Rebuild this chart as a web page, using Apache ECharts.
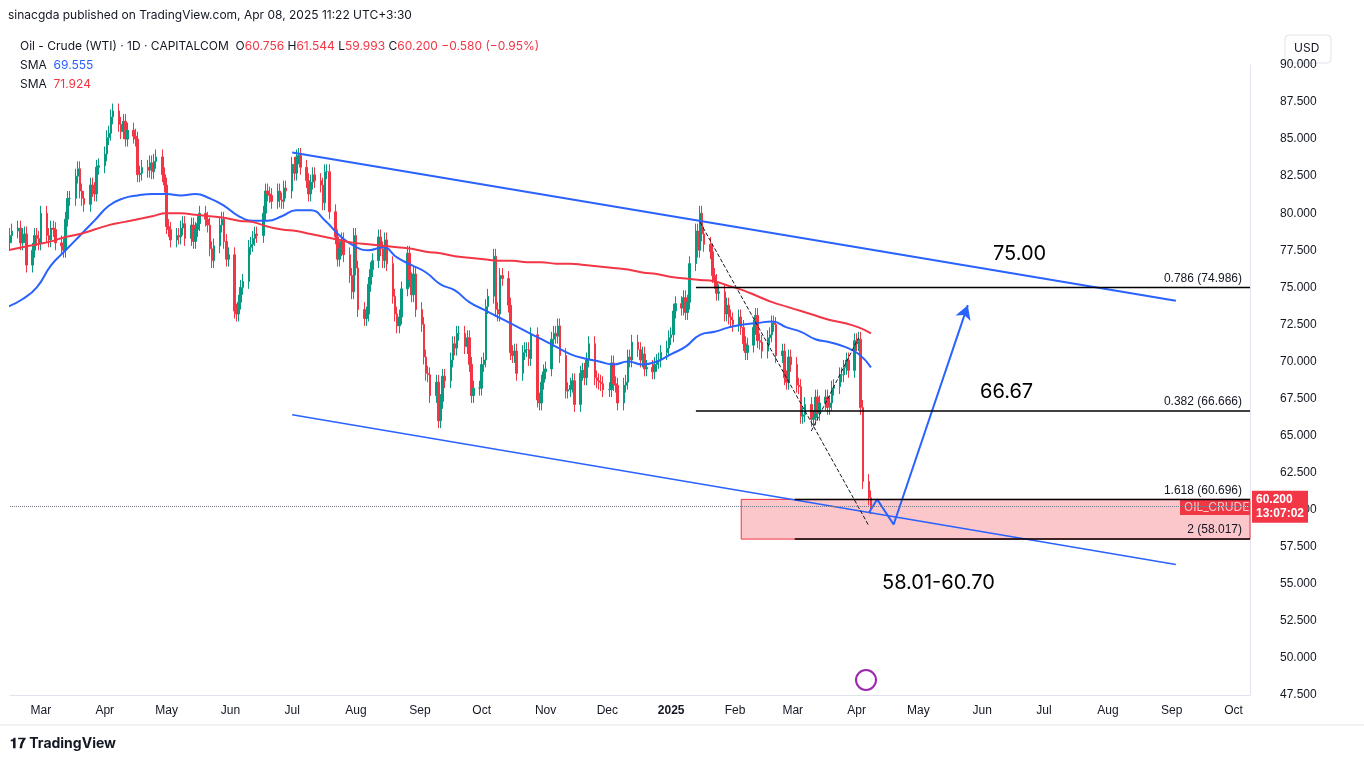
<!DOCTYPE html>
<html><head><meta charset="utf-8">
<script src="https://cdn.jsdelivr.net/npm/echarts@6/dist/echarts.min.js"></script>
<style>html,body{margin:0;padding:0;background:#fff}#c{width:1364px;height:765px}</style>
</head><body><div id="c"></div>
<script>
// Daily closes, week by week starting Mon 2024-02-12
const weeklyCloses = [
[77,77.5,78,78.5,78.8],[79,78,78.5,78.6,76.5],[77.5,78.5,78.3,78,80],[78.5,78.2,79,78.9,78],
[77.8,77.5,79.6,81,81],[82.5,83,81.5,81,80.6],[81.9,81.6,81.3,83.1,83.2],[84,85.1,85.4,86.5,86.9],
[86,85.5,86.2,85,85.6],[85.2,85,82.6,82.7,83.1],[82.9,83.4,82.8,83.5,83.8],[82.6,81.9,79.1,78.9,78.2],
[78.5,78.4,79,79.3,78.3],[79.2,78.1,78.9,79.3,80],[79.6,79.2,77.6,76.8,77.8],[79.2,79.6,78.1,76.9,77.2],
[73.4,73.2,74,75,75.4],[77.7,77.9,78.3,78.6,78.5],[80,81.5,81.3,81.2,80.8],[81.5,80.9,80.8,81.7,81.5],
[83.3,82.7,83.8,83.9,83.1],[82.2,81.3,82.1,82.6,82.2],[81.9,80.7,82.8,82.8,80.1],[78.4,76.9,77.6,78.2,77.2],
[75.8,74.7,78.5,76.3,73.5],[72.9,73.2,75.2,76.2,76.8],[78.4,77.6,76.8,78.2,76.6],[74.4,73.2,72.4,73,74.9],
[77.3,75.5,74.5,75.9,73.5],[72.5,70.3,69.2,69.1,67.7],[68.6,66,67.3,69,68.7],[70.1,71.2,70.9,71.9,71.9],
[71,71.6,69.8,67.7,68.2],[68.2,69.8,70.1,73.7,74.4],[77.1,73.5,73.2,75.8,75.6],[73.8,70.6,70.4,70.7,69.2],
[70.6,70.8,70.8,70.2,71.8],[67.4,67.2,68.6,69.3,69.5],[71.5,71.9,71.7,72.4,70.4],[68,68.1,68.4,68.7,67.1],
[69.2,69.4,68.9,70.1,71.2],[68.9,68.7,68.6,68.5,68.1],[68.1,69.9,68.5,68.4,67.2],[68.4,68.6,70.3,70.1,71.3],
[70.8,70.1,70.5,69.5,69.6],[69.3,69.8,70,70.1,70.6],[70.9,71.6,71.8,73.4,73.9],[73.6,74.3,73.3,74,76.6],
[78.8,77.5,80,78.6,77.9],[77.4,75.8,75.4,74.6,74.7],[73.2,73.8,73,72.8,72.5],[73,72.3,71.2,70.6,71.1],
[72.3,73.1,71.4,71.3,70.7],[71.6,71.8,72.6,72.5,70.4],[70.7,68.9,68.6,70.3,69.8],[68.4,68.3,66.3,66.4,67.1],
[66.1,66.2,67.6,66.5,67.2],[67.6,66.9,67.2,68.2,68.3],[69.1,69.1,69.6,70.1,69.4],[71.4,71.2,71.5,66.9,61.9],
[60.8,60.2]];
const smaBlue = [73.7,74.2,75,76.5,77.5,78.5,79.5,80.5,81,81.2,81.3,81.3,81.2,81.3,81,80.5,79.8,79.5,79.5,79.8,80.2,80.2,79.5,78.5,77.8,77.5,77.7,77,76.5,76,75.2,74.8,74,73.5,73,72.5,72,71.5,71,70.5,70.2,70,69.8,70,69.8,70,70.5,71,71.8,72,72.3,72.5,72.6,72.7,72.3,72,71.5,71.3,71,70.5,69.6];
const smaRed = [77.5,77.7,77.9,78.1,78.4,78.6,78.9,79.2,79.4,79.6,79.8,80,80,79.9,79.8,79.7,79.5,79.4,79.1,78.9,78.8,78.6,78.4,78.2,78.0,77.9,77.8,77.7,77.6,77.4,77.3,77.1,77.0,76.9,76.8,76.8,76.7,76.7,76.6,76.6,76.5,76.4,76.3,76.2,76.0,75.9,75.7,75.6,75.5,75.4,75.1,74.8,74.4,74.0,73.7,73.4,73.1,72.8,72.6,72.3,71.9];
const upperChannel = [['2024-07-01',84.1],['2025-09-03',74.1]];
const lowerChannel = [['2024-07-01',66.4],['2025-09-03',56.3]];
const projection = [['2025-04-07',59.8],['2025-04-11',60.7],['2025-04-19',59.0],['2025-05-25',73.8]];
const fibLines = [{y:74.986,from:'2025-01-13',txt:'0.786 (74.986)'},{y:66.666,from:'2025-01-13',txt:'0.382 (66.666)'},{y:60.696,from:'2025-03-02',txt:'1.618 (60.696)'},{y:58.017,from:'2025-03-02',txt:'2 (58.017)'}];
const dashed1 = [['2025-01-15',79.4],['2025-04-07',58.9]];
const dashed2 = [['2025-03-10',65.3],['2025-04-02',71.6]];
const zone = [58.017,60.696,'2025-02-04'];
const lastPrice = 60.2;

const DAY=86400000;
const start=Date.UTC(2024,1,12);
const candles=[];let prev=weeklyCloses[0][0]-0.4;
weeklyCloses.forEach((wk,i)=>wk.forEach((c,j)=>{
  const t=start+(i*7+j)*DAY;const o=prev;
  candles.push([t,o,c,Math.min(o,c)-0.5,Math.max(o,c)+0.5]);prev=c;}));
const wkDate=i=> i===smaBlue.length-1? Date.UTC(2025,3,8): start+(i*7+2)*DAY;
const xMax=Date.UTC(2025,9,9);
const months=['Jan','Feb','Mar','Apr','May','Jun','Jul','Aug','Sep','Oct','Nov','Dec'];
const fibSeries=fibLines.map(f=>({type:'line',data:[[f.from,f.y],[xMax,f.y]],symbol:'none',silent:true,
  lineStyle:{color:'#000',width:1.5},
  endLabel:{show:true,formatter:f.txt,align:'right',verticalAlign:'bottom',color:'#131722',fontSize:12,offset:[-8,-3],distance:0}}));

const chart=echarts.init(document.getElementById('c'));
chart.setOption({
  animation:false,
  grid:{left:10,right:114,top:65,bottom:70},
  xAxis:{type:'time',min:Date.UTC(2024,1,15),max:xMax,splitNumber:20,
    axisLine:{lineStyle:{color:'#e0e3eb'}},axisTick:{show:false},splitLine:{show:false},
    axisLabel:{color:'#131722',fontSize:12,margin:10,hideOverlap:false,
      formatter:v=>{const d=new Date(v);return d.getUTCMonth()===0?'{b|'+d.getUTCFullYear()+'}':months[d.getUTCMonth()];},
      rich:{b:{fontWeight:'bold',fontSize:12,color:'#131722'}}}},
  yAxis:{type:'value',position:'right',min:47.5,max:90,interval:2.5,
    axisLine:{show:true,lineStyle:{color:'#e0e3eb'}},axisTick:{show:false},splitLine:{show:false},
    axisLabel:{color:'#131722',fontSize:12,margin:30,formatter:v=>v.toFixed(3)}},
  series:[
    {type:'candlestick',data:candles,barWidth:2,
      itemStyle:{color:'#089981',color0:'#f23645',borderColor:'#089981',borderColor0:'#f23645',borderWidth:1},
      markLine:{symbol:'none',silent:true,data:[{yAxis:lastPrice}],lineStyle:{color:'#787b86',type:'dotted',width:1},
        label:{position:'end',formatter:'{a|60.200}\n{a|13:07:02}',backgroundColor:'#f23645',padding:[2,4],distance:2,
          rich:{a:{color:'#fff',fontSize:12,fontWeight:'bold',lineHeight:14}}}},
      markArea:{silent:true,itemStyle:{color:'rgba(242,54,69,0.28)',borderColor:'#f23645',borderWidth:1},
        data:[[{xAxis:zone[2],yAxis:zone[0]},{xAxis:Date.UTC(2025,9,10),yAxis:zone[1]}]]}},
    {type:'line',data:smaBlue.map((v,i)=>[wkDate(i),v]),symbol:'none',smooth:true,lineStyle:{color:'#2962ff',width:2}},
    {type:'line',data:smaRed.map((v,i)=>[wkDate(i),v]),symbol:'none',smooth:true,lineStyle:{color:'#f23645',width:2}},
    {type:'line',data:upperChannel,symbol:'none',lineStyle:{color:'#2962ff',width:2}},
    {type:'line',data:lowerChannel,symbol:'none',lineStyle:{color:'#2962ff',width:1.5}},
    {type:'line',data:dashed1,symbol:'none',lineStyle:{color:'#131722',width:1,type:'dashed'}},
    {type:'line',data:dashed2,symbol:'none',lineStyle:{color:'#131722',width:1,type:'dashed'}},
    {type:'line',data:projection,symbol:'none',lineStyle:{color:'#2962ff',width:2},
      markPoint:{symbol:'arrow',symbolSize:[12,14],symbolRotate:-20,data:[{coord:projection[3]}],itemStyle:{color:'#2962ff'},label:{show:false}}},
    ...fibSeries
  ],
  graphic:[
    {type:'text',left:8,top:9,style:{text:'sinacgda published on TradingView.com, Apr 08, 2025 11:22 UTC+3:30',fill:'#131722',font:'12px Inter, sans-serif'}},
    {type:'text',left:20,top:40,style:{text:'{k|Oil - Crude (WTI) · 1D · CAPITALCOM  }{k|O}{r|60.756 }{k|H}{r|61.544 }{k|L}{r|59.993 }{k|C}{r|60.200 }{r|−0.580 (−0.95%)}',
      rich:{k:{fill:'#131722',font:'12px Inter, sans-serif'},r:{fill:'#f23645',font:'12px Inter, sans-serif'}}}},
    {type:'text',left:20,top:59,style:{text:'{k|SMA  }{b|69.555}',rich:{k:{fill:'#131722',font:'12px Inter, sans-serif'},b:{fill:'#2962ff',font:'12px Inter, sans-serif'}}}},
    {type:'text',left:20,top:78,style:{text:'{k|SMA  }{b|71.924}',rich:{k:{fill:'#131722',font:'12px Inter, sans-serif'},b:{fill:'#f23645',font:'12px Inter, sans-serif'}}}},
    {type:'rect',shape:{x:1285,y:35,width:46,height:28,r:4},style:{fill:'#fff',stroke:'#e0e3eb'}},
    {type:'text',left:1294,top:42,style:{text:'USD',fill:'#131722',font:'12px Inter, sans-serif'}},
    {type:'text',left:993,top:244,style:{text:'75.00',fill:'#000',font:'20px Inter, sans-serif'}},
    {type:'text',left:980,top:382,style:{text:'66.67',fill:'#000',font:'20px Inter, sans-serif'}},
    {type:'text',left:882,top:573,style:{text:'58.01-60.70',fill:'#000',font:'20px Inter, sans-serif'}},
    {type:'rect',shape:{x:1180,y:500,width:70,height:15},style:{fill:'#f23645'}},
    {type:'text',left:1184,top:501,style:{text:'OIL_CRUDE',fill:'#fff',font:'12px Inter, sans-serif'}},
    {type:'circle',shape:{cx:866,cy:680,r:10},style:{fill:'#fff',stroke:'#9c27b0',lineWidth:2}},
    {type:'text',left:10,top:737,style:{text:'𝟏𝟕 TradingView',fill:'#131722',font:'bold 14px Inter, sans-serif'}},
    {type:'line',shape:{x1:0,y1:725,x2:1364,y2:725},style:{stroke:'#e0e3eb'}}
  ]
});
</script></body></html>
